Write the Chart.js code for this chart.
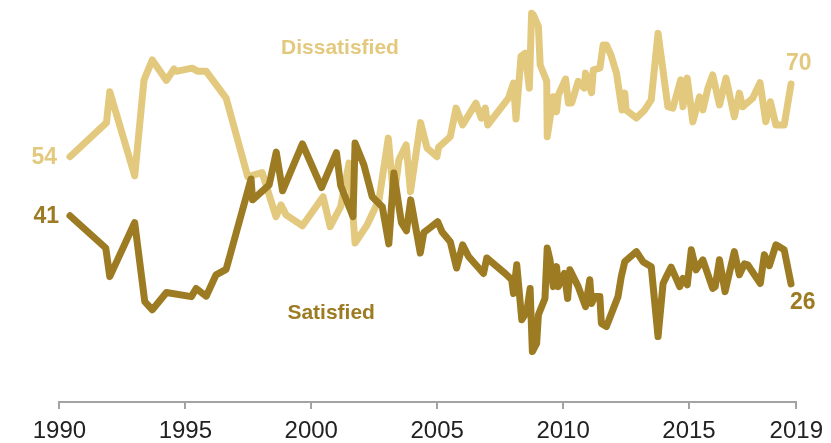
<!DOCTYPE html>
<html>
<head>
<meta charset="utf-8">
<script src="https://cdn.jsdelivr.net/npm/chart.js@4.4.1/dist/chart.umd.min.js"></script>
<style>
  html, body { margin: 0; padding: 0; background: #ffffff; }
  #wrap { width: 831px; height: 443px; position: relative; }
</style>
</head>
<body>
<div id="wrap"><canvas id="c"></canvas></div>
<script>
// ---- Data ----
const seriesNames = ['Satisfied', 'Dissatisfied'];

const disDates = [1990.42,1991.87,1992.00,1992.99,1993.36,1993.69,1994.25,1994.55,1994.64,1995.27,1995.50,1995.83,1996.62,1997.48,1998.05,1998.60,1998.80,1999.00,1999.65,2000.47,2000.75,2001.17,2001.50,2001.74,2002.22,2002.69,2003.06,2003.28,2003.48,2003.77,2003.94,2004.34,2004.60,2004.99,2005.06,2005.52,2005.75,2006.01,2006.54,2006.75,2006.91,2007.01,2007.83,2008.03,2008.13,2008.33,2008.49,2008.66,2008.75,2008.82,2009.02,2009.09,2009.35,2009.37,2009.61,2009.74,2009.81,2010.10,2010.21,2010.34,2010.60,2010.84,2010.89,2011.13,2011.20,2011.46,2011.59,2011.72,2011.90,2012.12,2012.34,2012.45,2012.50,2012.91,2013.24,2013.50,2013.77,2014.16,2014.36,2014.67,2014.76,2014.93,2015.15,2015.42,2015.55,2015.75,2015.94,2016.21,2016.47,2016.80,2017.00,2017.13,2017.53,2017.82,2018.05,2018.23,2018.45,2018.78,2019.05];
const disValues = [54,61.5,68.3,49.8,70.9,75.3,70.8,73.3,72.8,73.5,72.8,72.8,66.9,49.6,50.5,40.8,43.4,41.2,38.8,45.2,38.6,43.0,52.6,35.0,39.0,44.5,58.1,44.5,53.3,56.6,46.3,61.5,55.9,54.0,56.1,58.4,64.7,61.0,65.8,62.5,64.7,61.0,66.9,70.2,62.3,76.1,76.8,69.1,85.6,85.2,82.7,74.2,70.6,58.4,67.2,63.9,67.6,71.1,65.8,65.8,70.6,69.1,72.4,68.1,73.1,73.5,78.6,78.6,76.4,72.4,64.3,68.0,64.3,62.5,64.3,66.5,81.2,65.0,64.7,70.9,65.0,71.3,61.7,67.2,64.3,69.1,72.0,65.4,71.3,62.8,68.0,65.0,66.9,70.3,61.7,66.1,61.0,61.0,70];

const satDates = [1990.42,1991.84,1992.00,1992.99,1993.39,1993.69,1994.25,1995.24,1995.43,1995.83,1996.22,1996.62,1997.61,1997.67,1998.33,1998.61,1998.86,1999.65,2000.41,2001.00,2001.17,2001.66,2001.74,2002.09,2002.42,2002.82,2003.08,2003.28,2003.58,2003.78,2003.95,2004.33,2004.47,2004.73,2005.02,2005.19,2005.52,2005.77,2006.01,2006.25,2006.57,2006.84,2006.97,2007.70,2007.96,2008.03,2008.16,2008.36,2008.56,2008.69,2008.78,2008.95,2009.02,2009.28,2009.37,2009.48,2009.61,2009.74,2009.81,2010.05,2010.18,2010.27,2010.60,2010.89,2011.06,2011.13,2011.26,2011.46,2011.52,2011.72,2012.18,2012.31,2012.45,2012.91,2013.17,2013.50,2013.77,2013.97,2014.10,2014.29,2014.63,2014.76,2014.93,2015.09,2015.28,2015.55,2015.94,2016.04,2016.21,2016.43,2016.80,2017.00,2017.20,2017.33,2017.83,2017.99,2018.19,2018.45,2018.78,2019.05];
const satValues = [41,33.9,27.6,39.5,22.1,20.3,24.1,23.2,25.0,23.3,28.0,29.2,49.1,44.5,47.8,55.0,46.5,56.8,47.2,54.9,47.6,40.8,57.0,52.2,45.2,43.0,34.8,50.4,39.5,37.7,44.5,32.8,37.3,38.4,39.7,37.5,35.3,29.5,34.6,32.0,30.0,28.3,31.7,28.3,26.9,23.9,30.2,18.1,19.9,25.0,11.1,12.9,19.2,22.8,33.9,31.3,25.4,29.8,25.4,28.3,22.8,29.1,25.4,21.0,26.9,21.7,23.2,23.2,17.3,16.6,23.2,27.6,30.9,33.1,30.9,29.8,14.4,26.1,27.6,29.7,25.4,27.2,25.8,33.5,29.1,31.3,25.0,25.4,31.3,24.3,33.1,28.0,30.4,30.2,26.1,32.4,30.0,34.6,33.5,26];

const tickPositions = [1990, 1995, 2000, 2005, 2010, 2015, 2019.26];
const tickLabels = ['1990', '1995', '2000', '2005', '2010', '2015', '2019'];

// Series-name label anchors (in data units)
const nameAnchors = { Dissatisfied: [2001.14, 77.9], Satisfied: [2000.79, 19.6] };

// ---- Styles ----
const COL_DIS = '#E3C97E';
const COL_SAT = '#9C7B22';

function toPts(xs, ys) { return xs.map((x, i) => ({ x: x, y: ys[i] })); }

const labelPlugin = {
  id: 'labels',
  afterDatasetsDraw(chart) {
    const ctx = chart.ctx;
    const xs = chart.scales.x, ys = chart.scales.y;
    ctx.save();
    ctx.textBaseline = 'middle';
    // series names
    ctx.font = 'bold 21px "Liberation Sans", Arial, sans-serif';
    ctx.textAlign = 'center';
    ctx.fillStyle = COL_DIS;
    ctx.fillText(seriesNames[1], xs.getPixelForValue(nameAnchors.Dissatisfied[0]), ys.getPixelForValue(nameAnchors.Dissatisfied[1]));
    ctx.fillStyle = COL_SAT;
    ctx.fillText(seriesNames[0], xs.getPixelForValue(nameAnchors.Satisfied[0]), ys.getPixelForValue(nameAnchors.Satisfied[1]));
    // start / end values
    ctx.font = 'bold 23px "Liberation Sans", Arial, sans-serif';
    const fd = xs.getPixelForValue(disDates[0]), fdy = ys.getPixelForValue(disValues[0]);
    const fs = xs.getPixelForValue(satDates[0]), fsy = ys.getPixelForValue(satValues[0]);
    const ld = xs.getPixelForValue(disDates[disDates.length - 1]), ldy = ys.getPixelForValue(disValues[disValues.length - 1]);
    const ls = xs.getPixelForValue(satDates[satDates.length - 1]), lsy = ys.getPixelForValue(satValues[satValues.length - 1]);
    ctx.textAlign = 'right';
    ctx.fillStyle = COL_DIS;
    ctx.fillText(String(Math.round(disValues[0])), fd - 13, fdy + 1);
    ctx.fillStyle = COL_SAT;
    ctx.fillText(String(Math.round(satValues[0])), fs - 11, fsy + 1);
    ctx.textAlign = 'left';
    ctx.fillStyle = COL_DIS;
    ctx.fillText(String(Math.round(disValues[disValues.length - 1])), ld - 5, ldy - 20);
    ctx.fillStyle = COL_SAT;
    ctx.fillText(String(Math.round(satValues[satValues.length - 1])), ls - 1, lsy + 19);
    ctx.restore();
  }
};

new Chart(document.getElementById('c'), {
  type: 'line',
  data: {
    datasets: [
      { label: seriesNames[0], data: toPts(satDates, satValues), borderColor: COL_SAT, borderWidth: 7, pointRadius: 0, tension: 0, borderJoinStyle: 'round', borderCapStyle: 'round', clip: false },
      { label: seriesNames[1], data: toPts(disDates, disValues), borderColor: COL_DIS, borderWidth: 7, pointRadius: 0, tension: 0, borderJoinStyle: 'round', borderCapStyle: 'round', clip: false }
    ]
  },
  options: {
    responsive: true,
    maintainAspectRatio: false,
    animation: false,
    layout: { padding: { left: 59.4, right: 32.3, top: 0, bottom: 0 } },
    plugins: { legend: { display: false }, tooltip: { enabled: false } },
    scales: {
      x: {
        type: 'linear',
        min: tickPositions[0],
        max: tickPositions[tickPositions.length - 1],
        afterBuildTicks(scale) { scale.ticks = tickPositions.map(v => ({ value: v })); },
        afterFit(scale) { scale.height = 41; },
        ticks: {
          autoSkip: false, maxRotation: 0, padding: 8, color: '#222222',
          font: { family: '"Liberation Sans", Arial, sans-serif', size: 24 },
          callback(value, index) { return tickLabels[index]; }
        },
        grid: { display: true, drawOnChartArea: false, drawTicks: true, tickLength: 7, color: '#a3a3a3', lineWidth: 2 },
        border: { display: true, color: '#a3a3a3', width: 2 }
      },
      y: { display: false, min: 0, max: 88.5 }
    }
  },
  plugins: [labelPlugin]
});
</script>
</body>
</html>
